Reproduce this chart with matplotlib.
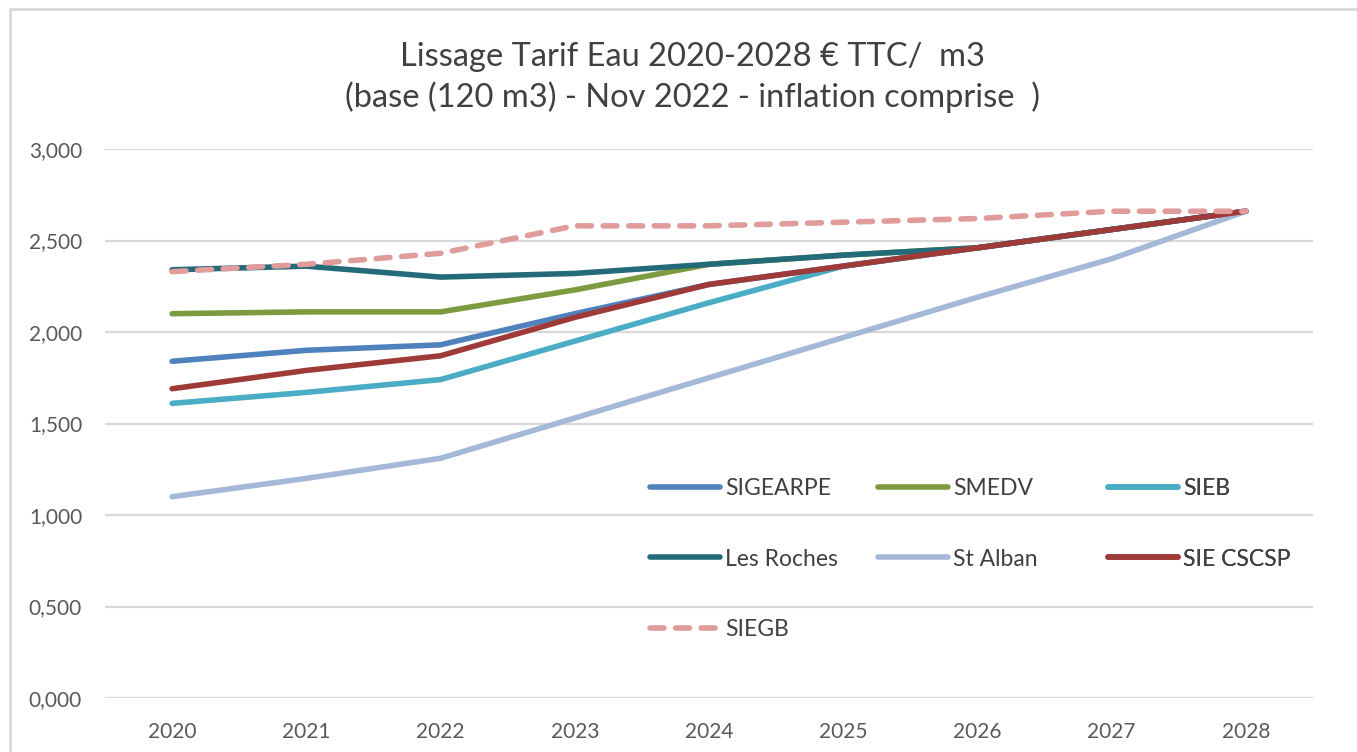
import matplotlib.pyplot as plt
from matplotlib.patches import Rectangle
from matplotlib.ticker import FuncFormatter

plt.rcParams['font.family'] = ['Lato', 'DejaVu Sans']

years = [2020, 2021, 2022, 2023, 2024, 2025, 2026, 2027, 2028]

sigearpe = [1.84, 1.90, 1.93, 2.10, 2.26, 2.36, 2.46, 2.56, 2.66]
smedv = [2.10, 2.11, 2.11, 2.23, 2.37, 2.42, 2.46, 2.56, 2.66]
sieb = [1.61, 1.67, 1.74, 1.95, 2.16, 2.36, 2.46, 2.56, 2.66]
les_roches = [2.34, 2.36, 2.30, 2.32, 2.37, 2.42, 2.46, 2.56, 2.66]
st_alban = [1.10, 1.20, 1.31, 1.53, 1.75, 1.97, 2.19, 2.40, 2.66]
sie_cscsp = [1.69, 1.79, 1.87, 2.08, 2.26, 2.36, 2.46, 2.56, 2.66]
siegb = [2.33, 2.37, 2.43, 2.58, 2.58, 2.60, 2.62, 2.66, 2.66]

title = "Lissage Tarif Eau 2020-2028 € TTC/  m3\n(base (120 m3) - Nov 2022 - inflation comprise  )"

W, H = 1357, 752
fig = plt.figure(figsize=(W / 100, H / 100), dpi=100)
# outer chart frame (only left and top edges are visible in the crop)
fig.patches.append(Rectangle((10 / W, -0.05), 1.1, 1.05 - 9 / H, transform=fig.transFigure,
                             fill=False, edgecolor='#D9D9D9', linewidth=2))
ax = fig.add_axes([105 / W, (H - 698) / H, 1208 / W, 549 / H])

lw = 4.0
lines = {}
lines['SIGEARPE'], = ax.plot(years, sigearpe, color='#4F81BD', lw=lw, solid_capstyle='round')
lines['SMEDV'], = ax.plot(years, smedv, color='#7B9B3E', lw=lw, solid_capstyle='round')
lines['SIEB'], = ax.plot(years, sieb, color='#4BACC6', lw=lw, solid_capstyle='round')
lines['Les Roches'], = ax.plot(years, les_roches, color='#256A79', lw=lw, solid_capstyle='round')
lines['St Alban'], = ax.plot(years, st_alban, color='#A6B8D7', lw=lw, solid_capstyle='round')
lines['SIE CSCSP'], = ax.plot(years, sie_cscsp, color='#9E3A38', lw=lw, solid_capstyle='round')
lines['SIEGB'], = ax.plot(years, siegb, color='#E09C9B', lw=lw, dashes=(2.5, 2.1),
                          dash_capstyle='round')
lines['SIEGB'].set_zorder(5)
lines['SIE CSCSP'].set_zorder(4)

ax.set_xlim(2019.5, 2028.5)
ax.set_ylim(0, 3.0)
ax.set_xticks(years)
ax.set_yticks([0, 0.5, 1.0, 1.5, 2.0, 2.5, 3.0])
ax.yaxis.set_major_formatter(FuncFormatter(lambda v, p: f"{v:.3f}".replace('.', ',')))
ax.tick_params(length=0, labelsize=15, colors='#595959')
ax.tick_params(axis='y', pad=16.5)
ax.tick_params(axis='x', pad=17)
ax.grid(axis='y', color='#D9D9D9', lw=1.6)
ax.set_axisbelow(True)
for s in ax.spines.values():
    s.set_visible(False)

fig.text(0.51, 0.897, title, ha='center', va='center', fontsize=23.5, color='#404040', linespacing=1.36)

# legend laid out row by row, one legend per column
columns = [['SIGEARPE', 'Les Roches', 'SIEGB'], ['SMEDV', 'St Alban'], ['SIEB', 'SIE CSCSP']]
col_x = [650, 878, 1108]
for names, x in zip(columns, col_x):
    leg = ax.legend([lines[k] for k in names], names, frameon=False, fontsize=16.5,
                    loc='upper left', bbox_to_anchor=((x - 105) / 1208, (698 - 478) / 549),
                    borderpad=0, borderaxespad=0, handlelength=3.05, handletextpad=0.22,
                    labelspacing=2.16, labelcolor='#404040')
    ax.add_artist(leg)

fig.savefig('out.png', dpi=100)
